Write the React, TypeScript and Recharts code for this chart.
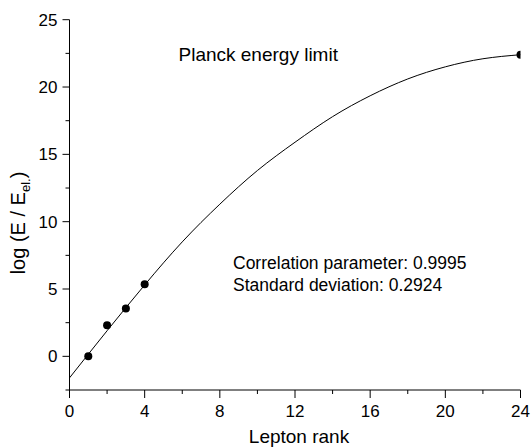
import React from "react";
import { ComposedChart, Line, Scatter, XAxis, YAxis } from "recharts";

// measured lepton points
const rankX = [1, 2, 3, 4, 24];
const energyY = [0, 2.3, 3.55, 5.35, 22.4];

// fitted curve, every 2 ranks
const fitX = [0, 2, 4, 6, 8, 10, 12, 14, 16, 18, 20, 22, 24];
const fitY = [-1.6, 1.9, 5.3, 8.5, 11.3, 13.8, 15.9, 17.8, 19.35, 20.6, 21.5, 22.1, 22.4];

const xTicks = [0, 2, 4, 6, 8, 10, 12, 14, 16, 18, 20, 22, 24];
const yTicks = [-2.5, 0, 2.5, 5, 7.5, 10, 12.5, 15, 17.5, 20, 22.5, 25];

const FONT = "'Liberation Sans', Arial, sans-serif";

const pointData = rankX.map((x, i) => ({ x, y: energyY[i] }));
const fitData = fitX.map((x, i) => ({ x, y: fitY[i] }));

const XTick = ({ x, y, payload }: any) => {
  const v = payload.value;
  const major = v % 4 === 0;
  return (
    <g>
      <line x1={x} y1={y} x2={x} y2={y + (major ? 8 : 4)} stroke="#000" />
      {major && (
        <text x={x} y={y + 27} textAnchor="middle" fontSize={17} fontFamily={FONT} fill="#000">
          {v}
        </text>
      )}
    </g>
  );
};

const YTick = ({ x, y, payload }: any) => {
  const v = payload.value;
  const major = v % 5 === 0;
  return (
    <g>
      <line x1={x - (major ? 7 : 4)} y1={y} x2={x} y2={y} stroke="#000" />
      {major && (
        <text x={x - 12} y={y + 6} textAnchor="end" fontSize={17} fontFamily={FONT} fill="#000">
          {v}
        </text>
      )}
    </g>
  );
};

const Dot = (props: any) => <circle cx={props.cx} cy={props.cy} r={4} fill="#000" />;

export default function App() {
  return (
    <div style={{ position: "absolute", left: 0, top: 0, width: 532, height: 447, background: "#fff" }}>
      <ComposedChart width={532} height={447} margin={{ top: 19.7, right: 11.5, bottom: 0, left: 0 }}>
        <XAxis
          type="number"
          dataKey="x"
          domain={[0, 24]}
          ticks={xTicks}
          interval={0}
          allowDataOverflow
          height={57}
          tickSize={0}
          tickMargin={0}
          tick={<XTick />}
          axisLine={{ stroke: "#000" }}
        />
        <YAxis
          type="number"
          dataKey="y"
          domain={[-2.5, 25]}
          ticks={yTicks}
          interval={0}
          allowDataOverflow
          width={69.5}
          tickSize={0}
          tickMargin={0}
          tick={<YTick />}
          axisLine={{ stroke: "#000" }}
        />
        <Line
          data={fitData}
          dataKey="y"
          type="natural"
          stroke="#000"
          strokeWidth={1}
          dot={false}
          activeDot={false}
          isAnimationActive={false}
        />
        <Scatter data={pointData} dataKey="y" shape={<Dot />} isAnimationActive={false} />
      </ComposedChart>
      <svg
        width={532}
        height={447}
        style={{ position: "absolute", left: 0, top: 0, pointerEvents: "none" }}
        fontFamily={FONT}
        fill="#000"
      >
        <text x={178.5} y={60.7} fontSize={19}>Planck energy limit</text>
        <text x={233} y={269.3} fontSize={17.5}>Correlation parameter: 0.9995</text>
        <text x={233} y={291} fontSize={17.5}>Standard deviation: 0.2924</text>
        <text x={299} y={443} fontSize={19} textAnchor="middle">Lepton rank</text>
        <text x={25} y={223} fontSize={20} textAnchor="middle" transform="rotate(-90, 25, 223)">
          log (E / E
          <tspan fontSize={13} dy={5}>el.</tspan>
          <tspan dy={-5}>)</tspan>
        </text>
      </svg>
    </div>
  );
}
